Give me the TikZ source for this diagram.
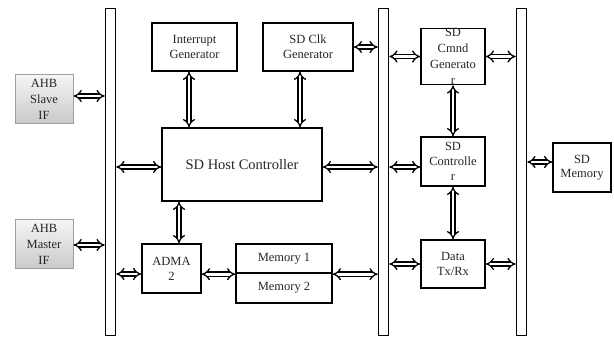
\documentclass[tikz,border=0pt]{standalone}
\usepackage{fontspec}
\setmainfont{Liberation Serif}
\usetikzlibrary{arrows.meta}

\tikzset{
  txt/.style={font=\fontsize{12.5}{15}\selectfont, text=black!85, align=center},
  blk/.style={draw, line width=1.4pt, inner sep=0pt, txt},
  ahb/.style={draw=gray!75, line width=1pt, top color=gray!8, bottom color=gray!42,
              inner sep=0pt, txt, minimum width=58pt, minimum height=49pt,
              font=\fontsize{12.5}{16}\selectfont},
  bus/.style={draw, line width=1.5pt, inner sep=0pt, minimum width=10pt, minimum height=327pt},
  link/.style={double, double distance=2.8pt, line width=1.3pt, {Implies}-{Implies}},
}

\begin{document}
\begin{tikzpicture}[x=1pt, y=-1pt]
\useasboundingbox (0,0) rectangle (614,339);

% vertical buses
\node[bus] (bus1) at (110.5,172) {};
\node[bus] (bus2) at (383.5,172) {};
\node[bus] (bus3) at (521.5,172) {};

% AHB interfaces
\node[ahb] (slave)  at (44,99.5)  {AHB\\Slave\\IF};
\node[ahb] (master) at (44,244.5) {AHB\\Master\\IF};

% host side blocks
\node[blk, minimum width=85pt, minimum height=48pt] (intr) at (194.5,47) {Interrupt\\Generator};
\node[blk, minimum width=90pt, minimum height=48pt] (clk)  at (308,47)   {SD Clk\\Generator};
\node[blk, minimum width=160pt, minimum height=73pt, font=\fontsize{14.5}{17}\selectfont]
      (host) at (242,164.5) {SD Host Controller};
\node[blk, minimum width=59pt, minimum height=49pt] (adma) at (171.5,268.5) {ADMA\\2};
\node[blk, minimum width=96pt, minimum height=29pt] (mem1) at (284,258.5) {Memory 1};
\node[blk, minimum width=96pt, minimum height=30pt] (mem2) at (284,288)   {Memory 2};

% card side blocks
\node[blk, minimum width=64pt, minimum height=48pt, font=\fontsize{12.5}{16}\selectfont]
      (cmnd) at (453,56.5) {SD\\Cmnd\\Generato\\r};
\node[blk, minimum width=64pt, minimum height=49pt] (ctrl) at (453,161.5) {SD\\Controlle\\r};
\node[blk, minimum width=64pt, minimum height=48pt] (data) at (453,264)   {Data\\Tx/Rx};
\node[blk, minimum width=58pt, minimum height=49pt, font=\fontsize{12.5}{14}\selectfont]
      (sdmem) at (582,167.5) {SD\\Memory};

% interface links
\draw[link] ([yshift=3.5pt]slave.east) coordinate (p) -- (p -| bus1.west);
\draw[link] ([yshift=-0.5pt]master.east) coordinate (p) -- (p -| bus1.west);

% host controller links
\draw[link] ([yshift=-2.5pt]host.west) coordinate (p) -- (p -| bus1.east);
\draw[link] ([yshift=-2.5pt]host.east) coordinate (p) -- (p -| bus2.west);
\draw[link] ([xshift=-5.5pt]intr.south) coordinate (p) -- (p |- host.north);
\draw[link] ([xshift=-8pt]clk.south) coordinate (p) -- (p |- host.north);
\draw[link] (clk.east) -- (clk.east -| bus2.west);
\draw[link] ([xshift=7.5pt]adma.north) coordinate (p) -- (p |- host.south);

% DMA path
\draw[link] ([yshift=-5.5pt]adma.west) coordinate (p) -- (p -| bus1.east);
\draw[link] ([yshift=-0.5pt]mem1.south west -| adma.east) coordinate (p) -- (p -| mem1.west);
\draw[link] ([yshift=-0.5pt]mem1.south east) coordinate (p) -- (p -| bus2.west);

% card side links
\draw[link] (cmnd.west) -- (cmnd.west -| bus2.east);
\draw[link] (cmnd.east) -- (cmnd.east -| bus3.west);
\draw[link] (cmnd.south) -- (ctrl.north);
\draw[link] (ctrl.south) -- (data.north);
\draw[link] ([yshift=-5.5pt]ctrl.west) coordinate (p) -- (p -| bus2.east);
\draw[link] (data.west) -- (data.west -| bus2.east);
\draw[link] (data.east) -- (data.east -| bus3.west);
\draw[link] ([yshift=5.5pt]sdmem.west) coordinate (p) -- (p -| bus3.east);
\end{tikzpicture}
\end{document}
